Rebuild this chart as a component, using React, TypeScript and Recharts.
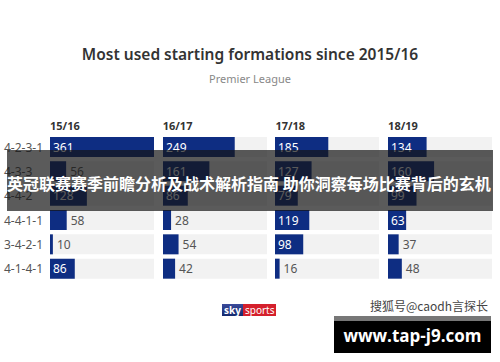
import { BarChart, Bar, XAxis, YAxis, LabelList } from 'recharts';

const formations = ['4-2-3-1', '4-3-3', '4-4-2', '4-4-1-1', '3-4-2-1', '4-1-4-1'];
const seasons = ['15/16', '16/17', '17/18', '18/19'];
const s1516 = [361, 56, 128, 58, 10, 86];
const s1617 = [249, 161, 86, 28, 54, 42];
const s1718 = [185, 127, 79, 119, 98, 16];
const s1819 = [134, 160, 99, 63, 37, 48];
const seasonValues = [s1516, s1617, s1718, s1819];
const MAX = 361;

const NAVY = '#0e2d82';
const TRACK = '#f2f2f2';
const FONT = '"Noto Sans", "Open Sans", sans-serif';
const CJK = '"Noto Sans CJK SC", sans-serif';

// value sits inside the bar when there's room, otherwise just after it
const ValueLabel = (props: any) => {
  const { x, y, width, height, value } = props;
  const inside = width > 17.5;
  return (
    <text
      x={inside ? x + 3 : x + width + 4}
      y={y + height / 2}
      dominantBaseline="central"
      fill={inside ? '#ffffff' : '#555555'}
      fontSize={12}
      fontFamily={FONT}
    >
      {value}
    </text>
  );
};

const FormationTick = ({ y, payload }: any) => (
  <text x={4} y={y} dominantBaseline="central" fill="#555" fontSize={12} fontFamily={FONT}>
    {payload.value}
  </text>
);

function SeasonChart({ idx }: { idx: number }) {
  const data = formations.map((f, i) => ({ name: f, value: seasonValues[idx][i] }));
  const first = idx === 0;
  const left = first ? 0 : 50 + idx * 112.7;
  const width = first ? 154 : 104;
  return (
    <div style={{ position: 'absolute', left, top: 135 }}>
      <BarChart width={width} height={146} data={data} layout="vertical"
        margin={{ top: 0, right: 0, bottom: 0, left: 0 }} barSize={20}>
        <XAxis type="number" domain={[0, MAX]} hide />
        <YAxis type="category" dataKey="name" hide={!first} width={50}
          axisLine={false} tickLine={false} tick={<FormationTick />} interval={0} />
        <Bar dataKey="value" fill={NAVY} background={{ fill: TRACK }} isAnimationActive={false}>
          <LabelList dataKey="value" content={<ValueLabel />} />
        </Bar>
      </BarChart>
    </div>
  );
}

export default function App() {
  return (
    <div style={{ position: 'absolute', left: 0, top: 0, width: 500, height: 362, background: '#fff', overflow: 'hidden', fontFamily: FONT }}>
      <div style={{ position: 'absolute', top: 43, width: 500, textAlign: 'center', fontSize: 15.5, fontWeight: 600, color: '#333', lineHeight: '22px' }}>
        Most used starting formations since 2015/16
      </div>
      <div style={{ position: 'absolute', top: 71, width: 500, textAlign: 'center', fontSize: 11, color: '#888', lineHeight: '16px' }}>
        Premier League
      </div>
      {seasons.map((s, i) => (
        <div key={s} style={{ position: 'absolute', left: 50 + i * 112.7, top: 118, fontSize: 11, fontWeight: 700, color: '#333', lineHeight: '16px' }}>
          {s}
        </div>
      ))}
      {seasons.map((s, i) => <SeasonChart key={s} idx={i} />)}

      <div style={{ position: 'absolute', left: 7, top: 150, width: 486, height: 61, background: 'rgba(22,22,22,0.7)' }} />
      <div style={{ position: 'absolute', left: 7, top: 172, width: 490, fontFamily: CJK, fontSize: 16, fontWeight: 700, color: '#fff', lineHeight: '22px', whiteSpace: 'nowrap' }}>
        英冠联赛赛季前瞻分析及战术解析指南 助你洞察每场比赛背后的玄机
      </div>

      <div style={{ position: 'absolute', left: 222, top: 304, height: 12, display: 'flex', fontSize: 10, lineHeight: '12px', color: '#fff' }}>
        <span style={{ background: 'linear-gradient(#3a4a9a, #142a6e)', padding: '0 2px', fontWeight: 700 }}>sky</span>
        <span style={{ background: '#d4202c', padding: '0 2px' }}>sports</span>
      </div>
      <div style={{ position: 'absolute', left: 370, top: 298, fontFamily: CJK, fontSize: 12, color: '#444', lineHeight: '16px', whiteSpace: 'nowrap' }}>
        搜狐号@caodh言探长
      </div>
      <div style={{ position: 'absolute', left: 334, top: 316, width: 157, height: 37, background: '#000' }}>
        <div style={{ height: 5, background: '#777' }} />
        <div style={{ textAlign: 'center', fontSize: 17, fontWeight: 700, color: '#fff', lineHeight: '30px', fontFamily: '"Open Sans", sans-serif' }}>
          www.tap-j9.com
        </div>
      </div>
    </div>
  );
}
